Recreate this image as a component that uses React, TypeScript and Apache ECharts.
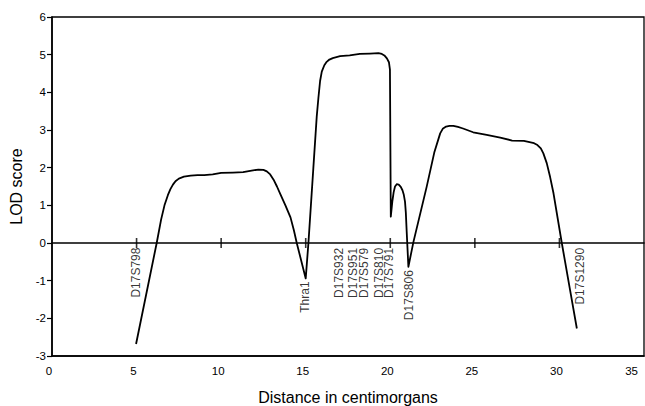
import React, { useEffect, useRef } from "react";
import * as echarts from "echarts";

// LOD score curve: distance (cM) and LOD score
const curveX = [
  4.97, 6.19, 6.45, 6.65, 6.85, 7.0, 7.15, 7.3, 7.5, 7.8, 8.2, 8.6, 9.0, 9.5, 10.0, 10.7, 11.3, 11.8,
  12.2, 12.5, 12.7, 12.9, 13.1, 13.3, 13.5, 13.8, 14.1, 14.3, 14.47, 15.0, 15.16, 15.45, 15.65, 15.75, 15.85,
  15.95, 16.1, 16.24, 16.4, 16.6, 17.03, 17.6, 18.2, 18.8, 19.3, 19.5, 19.65, 19.8, 19.92, 19.98,
  20.03, 20.12, 20.2, 20.28, 20.38, 20.5, 20.62, 20.72, 20.8, 20.87, 20.92, 20.97, 21.07, 21.37,
  22.15, 22.6, 22.95, 23.1, 23.3, 23.5, 23.73, 24.0, 24.3, 24.9, 25.7, 26.5, 27.2, 27.9, 28.5,
  28.7, 28.9, 29.05, 29.25, 29.45, 29.65, 30.14, 30.63, 31.03,
];
const curveY = [
  -2.68, 0, 0.62, 1.0, 1.27, 1.43, 1.55, 1.64, 1.71, 1.76, 1.79, 1.8, 1.8, 1.82, 1.86, 1.87, 1.88, 1.92,
  1.95, 1.94, 1.9, 1.82, 1.68, 1.5, 1.3, 1.0, 0.68, 0.34, 0, -0.94, 0, 1.98, 3.35, 3.85, 4.3,
  4.55, 4.72, 4.81, 4.87, 4.91, 4.96, 4.98, 5.02, 5.03, 5.04, 5.02, 4.98, 4.9, 4.8, 4.6,
  0.7, 1.1, 1.35, 1.5, 1.56, 1.55, 1.49, 1.4, 1.28, 1.1, 0.8, 0.3, -0.63, 0.03,
  1.49, 2.4, 2.91, 3.03, 3.09, 3.11, 3.11, 3.08, 3.04, 2.94, 2.87, 2.8, 2.72, 2.71, 2.65,
  2.6, 2.51, 2.38, 2.12, 1.75, 1.32, 0, -1.25, -2.27,
];

// Genetic markers: name, position (cM), top of the label (LOD units)
const markerNames = [
  "D17S798", "Thra1", "D17S932", "D17S951", "D17S579", "D17S810", "D17S791", "D17S806", "D17S1290",
];
const markerPos = [4.95, 14.96, 16.97, 17.8, 18.45, 19.35, 19.93, 21.1, 31.2];
const markerTop = [-0.12, -1.02, -0.13, -0.13, -0.13, -0.13, -0.13, -0.72, -0.13];

// tick marks drawn across the zero line
const zeroLineTicks = [5, 10, 15, 20, 25, 30];

const xTicks = { min: 0, max: 35, interval: 5 };
const yTicks = { min: -3, max: 6, interval: 1 };

const FONT = "'Liberation Sans', Arial, sans-serif";

export default function App() {
  const ref = useRef<HTMLDivElement>(null);
  useEffect(() => {
    if (!ref.current) return;
    const chart = echarts.init(ref.current, undefined, { renderer: "svg" });
    const line = curveX.map((x, i) => [x, curveY[i]]);
    const markers = markerNames.map((n, i) => ({ name: n, value: [markerPos[i], markerTop[i]] }));
    chart.setOption({
      animation: false,
      backgroundColor: "#fff",
      textStyle: { fontFamily: FONT, color: "#000" },
      grid: {
        left: 52,
        right: 1,
        top: 17,
        bottom: 50,
        containLabel: false,
        outerBoundsMode: "none",
        show: true,
        borderColor: "#000",
        borderWidth: 1.3,
      },
      xAxis: [
        {
          type: "value",
          ...xTicks,
          position: "bottom",
          name: "Distance in centimorgans",
          nameLocation: "middle",
          nameGap: 33,
          nameTextStyle: { fontFamily: FONT, fontSize: 16, color: "#000" },
          axisLine: { onZero: false, lineStyle: { color: "#000", width: 1.6 } },
          axisTick: { show: false },
          axisLabel: {
            fontFamily: FONT,
            fontSize: 11.5,
            color: "#000",
            margin: 9,
            padding: [0, 6, 0, 0],
            alignMaxLabel: "right",
          },
          splitLine: { show: false },
        },
        {
          type: "value",
          ...xTicks,
          position: "top",
          axisLine: { onZero: true, lineStyle: { color: "#000", width: 1.6 } },
          axisTick: { show: false },
          axisLabel: { show: false },
          splitLine: { show: false },
        },
      ],
      yAxis: {
        type: "value",
        ...yTicks,
        name: "LOD score",
        nameLocation: "middle",
        nameGap: 20,
        nameTextStyle: { fontFamily: FONT, fontSize: 16, color: "#000" },
        axisLine: { show: true, lineStyle: { color: "#000", width: 1.6 } },
        axisTick: { show: true, length: 5, lineStyle: { color: "#000", width: 1.2 } },
        axisLabel: { fontFamily: FONT, fontSize: 11.5, color: "#000", margin: 6 },
        splitLine: { show: false },
      },
      series: [
        {
          type: "line",
          data: line,
          xAxisIndex: 0,
          showSymbol: false,
          symbol: "none",
          smooth: false,
          lineStyle: { color: "#000", width: 1.8, join: "round" },
          z: 5,
        },
        {
          type: "scatter",
          data: zeroLineTicks.map((x) => [x, 0]),
          xAxisIndex: 0,
          symbol: "rect",
          symbolSize: [1.6, 10],
          itemStyle: { color: "#000" },
          silent: true,
          z: 4,
        },
        {
          type: "scatter",
          data: markers,
          xAxisIndex: 0,
          symbolSize: 0,
          silent: true,
          label: {
            show: true,
            formatter: "{b}",
            position: "inside",
            rotate: 90,
            align: "right",
            verticalAlign: "middle",
            fontFamily: FONT,
            fontSize: 12,
            color: "#000",
          },
          z: 6,
        },
      ],
    });
    return () => chart.dispose();
  }, []);
  return (
    <div
      ref={ref}
      style={{ position: "fixed", left: 0, top: 0, width: 645, height: 406, background: "#fff" }}
    />
  );
}
